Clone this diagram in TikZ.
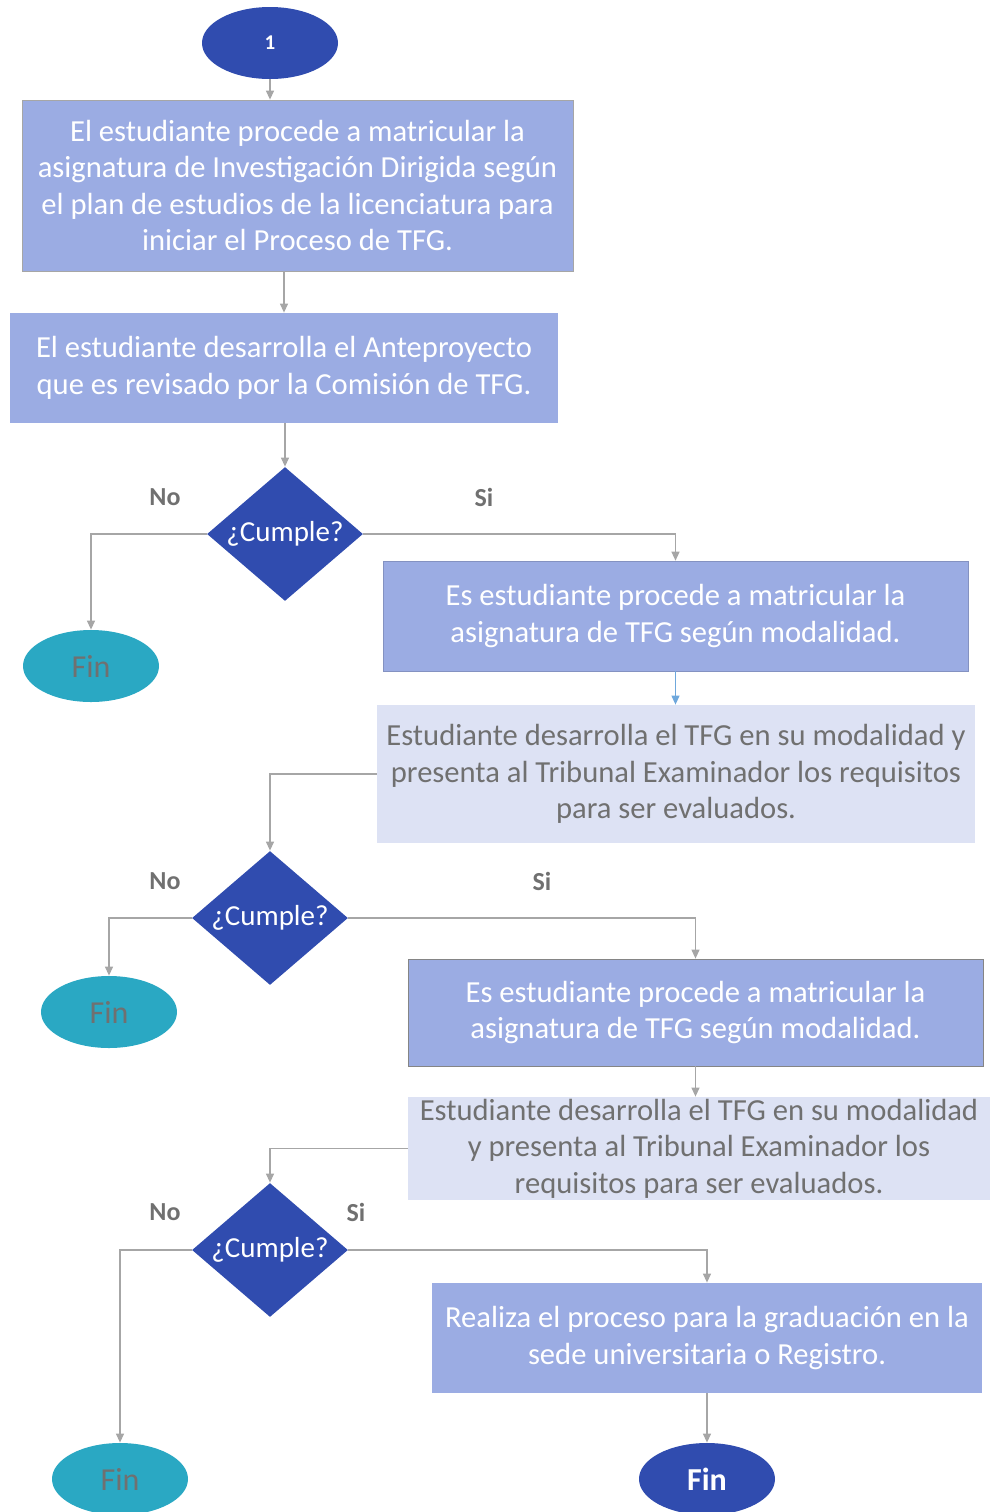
\documentclass[tikz,border=0pt]{standalone}
\usepackage{fontspec}
\setmainfont{Carlito}
\usetikzlibrary{calc, shapes.geometric, arrows.meta}

\definecolor{azuloscuro}{HTML}{304CAF}
\definecolor{azulclaro}{HTML}{9BACE3}
\definecolor{lavanda}{HTML}{DDE2F4}
\definecolor{turquesa}{HTML}{2AA8C3}
\definecolor{grisletra}{HTML}{707070}
\definecolor{grislinea}{HTML}{A6A6A6}
\definecolor{grisborde}{HTML}{858585}
\definecolor{azulflecha}{HTML}{6FA8DC}

\begin{document}
\begin{tikzpicture}[x=0.5pt, y=-0.5pt]

    \tikzstyle{caja}=[rectangle, inner sep=0pt, align=center, font=\fontsize{15.3}{18.25}\selectfont];
    \tikzstyle{paso}=[caja, fill=azulclaro, text=white];
    \tikzstyle{tarea}=[caja, fill=lavanda, text=grisletra];
    \tikzstyle{rombo}=[diamond, fill=azuloscuro, text=white, aspect=1.1, inner sep=0pt, minimum width=78pt, minimum height=67pt, font=\fontsize{14.5}{16}\selectfont];
    \tikzstyle{fin}=[ellipse, fill=turquesa, text=grisletra, inner sep=0pt, minimum width=68pt, minimum height=36pt, font=\fontsize{16}{18}\selectfont];
    \tikzstyle{flecha}=[draw=grislinea, line width=0.6pt, -{Triangle[length=4.5pt, width=4pt]}];
    \tikzstyle{etiqueta}=[text=grisletra, font=\bfseries\fontsize{13}{15}\selectfont];

    \useasboundingbox (0,0) rectangle (990,1512);

    \node[ellipse, fill=azuloscuro, text=white, minimum width=68pt, minimum height=36pt, font=\bfseries\fontsize{10.5}{12}\selectfont] (0) at (270,43) {1};
    \node[paso, draw=grislinea, minimum width=275.5pt, minimum height=85.5pt] (1) at (297.5,185.5) {El estudiante procede a matricular la\\asignatura de Investigación Dirigida según\\el plan de estudios de la licenciatura para\\iniciar el Proceso de TFG.};
    \node[paso, minimum width=274pt, minimum height=55pt] (2) at (284,368) {El estudiante desarrolla el Anteproyecto\\que es revisado por la Comisión de TFG.};
    \node[rombo] (3) at (285,534) {¿Cumple?};
    \node[fin] (4) at (91,666) {Fin};
    \node[paso, draw=azulclaro!85!black, line width=0.3pt, minimum width=292.5pt, minimum height=55pt] (5) at (675.5,616) {Es estudiante procede a matricular la\\asignatura de TFG según modalidad.};
    \node[tarea, minimum width=299pt, minimum height=69pt] (6) at (676,774) {Estudiante desarrolla el TFG en su modalidad y\\presenta al Tribunal Examinador los requisitos\\para ser evaluados.};

    \node[rombo] (7) at (270,918) {¿Cumple?};
    \node[fin] (8) at (109,1012) {Fin};
    \node[paso, draw=grisborde, minimum width=287.5pt, minimum height=53.5pt] (9) at (695.5,1012.5) {Es estudiante procede a matricular la\\asignatura de TFG según modalidad.};
    \node[tarea, minimum width=291pt, minimum height=51.5pt] (10) at (699,1148.5) {Estudiante desarrolla el TFG en su modalidad\\y presenta al Tribunal Examinador los\\requisitos para ser evaluados.};

    \node[rombo] (11) at (270,1250) {¿Cumple?};
    \node[fin] (12) at (120,1479) {Fin};
    \node[paso, minimum width=275pt, minimum height=55pt] (13) at (707,1338) {Realiza el proceso para la graduación en la\\sede universitaria o Registro.};
    \node[fin, fill=azuloscuro, text=white, font=\bfseries\fontsize{16}{18}\selectfont] (14) at (707,1479) {Fin};

    % etiquetas de las decisiones
    \node[etiqueta] (no1) at (165,497) {No};
    \node[etiqueta] (si1) at (484,497) {Si};
    \node[etiqueta] (no2) at (165,881) {No};
    \node[etiqueta] (si2) at (542,881) {Si};
    \node[etiqueta] (no3) at (165,1212) {No};
    \node[etiqueta] (si3) at (356,1212) {Si};

    \draw[flecha] (0.south) -- (0.south |- 1.north);
    \draw[flecha] (1.south -| 2.north) -- (2.north);
    \draw[flecha] (2.south -| 3.north) -- (3.north);
    \draw[flecha] (3.west) -| (4.north);
    \draw[flecha] (3.east) -| (5.north);
    \draw[flecha, draw=azulflecha] (5.south) -- (5.south |- 6.north);
    \draw[flecha] (6.west) -| (7.north);

    \draw[flecha] (7.west) -| (8.north);
    \draw[flecha] (7.east) -| (9.north);
    \draw[flecha] (9.south) -- (9.south |- 10.north);
    \draw[flecha] (10.west) -| (11.north);

    \draw[flecha] (11.west) -| (12.north);
    \draw[flecha] (11.east) -| (13.north);
    \draw[flecha] (13.south) -- (13.south |- 14.north);
\end{tikzpicture}
\end{document}
